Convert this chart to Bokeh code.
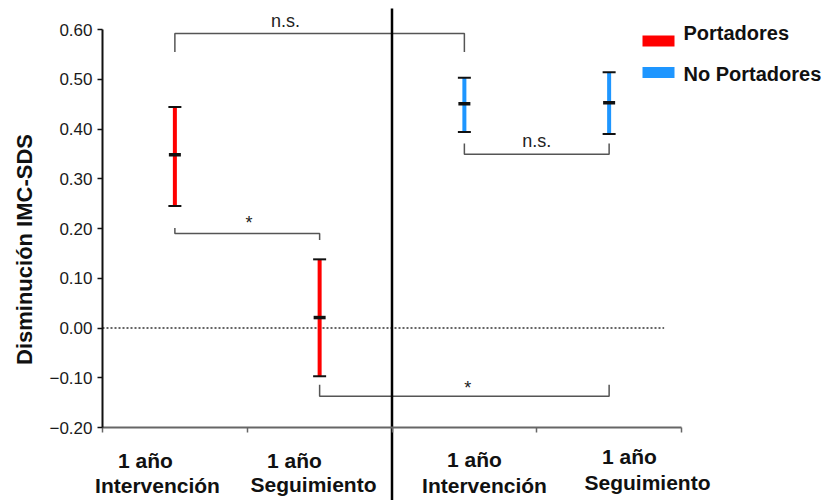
from math import pi
from bokeh.plotting import figure
from bokeh.models import (ColumnDataSource, FixedTicker, CustomJSTickFormatter,
                          Label, LabelSet, Range1d)
from bokeh.core.properties import value
from bokeh.embed import file_html
from bokeh.resources import INLINE

# ---------------- data ----------------
groups = ["Portadores", "Portadores", "No Portadores", "No Portadores"]
time_line1 = ["1 año", "1 año", "1 año", "1 año"]
time_line2 = ["Intervención", "Seguimiento", "Intervención", "Seguimiento"]
x_pos = [0.5, 1.5, 2.5, 3.5]
means = [0.348, 0.021, 0.451, 0.453]
upper = [0.444, 0.138, 0.503, 0.514]
lower = [0.245, -0.097, 0.394, 0.390]
y_ticks = [-0.2, -0.1, 0.0, 0.1, 0.2, 0.3, 0.4, 0.5, 0.6]
x_ticks = [0, 1, 2, 3, 4]
separator_x = 2

# significance brackets
bracket_x0 = [0.5, 0.5, 2.5, 1.5]
bracket_x1 = [2.5, 1.5, 3.5, 3.5]
bracket_bar = [0.592, 0.190, 0.349, -0.137]
bracket_leg0 = [0.555, 0.201, 0.371, -0.114]
bracket_leg1 = [0.555, 0.177, 0.371, -0.114]
bracket_text = ["n.s.", "*", "n.s.", "*"]
bracket_text_x = [1.264, 1.012, 3.0, 2.523]
bracket_text_y = [0.617, 0.212, 0.376, -0.120]

zero_line_x = [0.0, 3.88]
zero_line_y = [0.0, 0.0]

RED = "#ff0000"
BLUE = "#1e96ff"
colors = [RED, RED, BLUE, BLUE]
legend_labels = ["Portadores", "No Portadores"]
legend_colors = [RED, BLUE]

# ---------------- geometry helpers (reference pixel -> data) ----------------
W, H = 832, 500
X_PX = 144.75     # px per x unit
Y_PX = 497.5      # px per y unit
X_ZERO = 102      # canvas px of x=0
Y_ZERO = 327.5    # canvas px of y=0


def sx(px):
    return (px - X_ZERO) / X_PX


def sy(py):
    return (Y_ZERO - py) / Y_PX


p = figure(width=W, height=H, x_range=Range1d(sx(0), sx(W)), y_range=Range1d(sy(H), sy(0)),
           output_backend="svg", toolbar_location=None,
           min_border_left=0, min_border_right=0, min_border_top=0, min_border_bottom=0)
p.grid.visible = False
p.outline_line_color = None
p.background_fill_color = "white"

FONT = "Liberation Sans"

# y axis
yax = p.yaxis[0]
yax.fixed_location = 0
yax.bounds = (-0.2, 0.6)
yax.ticker = FixedTicker(ticks=y_ticks)
yax.formatter = CustomJSTickFormatter(
    code="return (tick < -1e-9 ? '\u2212' : '') + Math.abs(tick).toFixed(2);")
yax.major_label_text_font = FONT
yax.major_label_text_font_size = "17px"
yax.major_label_text_color = "#1a1a1a"
yax.major_label_standoff = 5
yax.major_tick_out = 5
yax.major_tick_in = 0
yax.minor_tick_out = 0
yax.minor_tick_in = 0
yax.axis_line_width = 2
yax.axis_line_color = "#111111"
yax.major_tick_line_width = 1.5
yax.major_tick_line_color = "#111111"

# x axis
xax = p.xaxis[0]
xax.fixed_location = -0.2
xax.bounds = (0, 4)
xax.ticker = FixedTicker(ticks=x_ticks)
xax.formatter = CustomJSTickFormatter(code="return '';")
xax.major_tick_out = 5
xax.major_tick_in = 0
xax.minor_tick_out = 0
xax.minor_tick_in = 0
xax.axis_line_width = 2
xax.axis_line_color = "#666666"
xax.major_tick_line_color = "#666666"
xax.major_tick_line_width = 1.5

# zero reference line
p.line(x=zero_line_x, y=zero_line_y, line_dash="2 2", line_color="#333333", line_width=1.3)

# brackets
bxs = [[a, a, b, b] for a, b in zip(bracket_x0, bracket_x1)]
bys = [[l0, m, m, l1] for l0, m, l1 in zip(bracket_leg0, bracket_bar, bracket_leg1)]
p.multi_line(xs=bxs, ys=bys, line_color="#555555", line_width=1.5)

bt_src = ColumnDataSource(dict(x=bracket_text_x, y=bracket_text_y, text=bracket_text,
                               fs=["18px" if t != "*" else "18px" for t in bracket_text]))
p.text(x="x", y="y", text="text", source=bt_src, text_font=value(FONT), text_font_size="fs",
       text_align="center", text_baseline="alphabetic", text_color="#222222")

# separator line between groups
p.segment(x0=[separator_x], y0=[sy(8)], x1=[separator_x], y1=[sy(H)],
          line_width=2.5, line_color="black")

# error bars
src = ColumnDataSource(dict(x=x_pos, mean=means, upper=upper, lower=lower, color=colors, group=groups))
p.segment(x0="x", y0="lower", x1="x", y1="upper", line_color="color", line_width=4, source=src)
p.scatter(x="x", y="upper", marker="dash", size=13, line_width=2, line_color="#111111", source=src)
p.scatter(x="x", y="lower", marker="dash", size=13, line_width=2, line_color="#111111", source=src)
p.scatter(x="x", y="mean", marker="dash", size=12, line_width=3.5, line_color="#111111", source=src)

# category labels (two lines)
cat_src1 = ColumnDataSource(dict(x=[sx(145), sx(294), sx(474), sx(629)],
                                 y=[sy(467), sy(467), sy(466), sy(463)], text=time_line1))
cat_src2 = ColumnDataSource(dict(x=[sx(157), sx(313), sx(484), sx(647)],
                                 y=[sy(492), sy(491), sy(492), sy(489)], text=time_line2))
for s in (cat_src1, cat_src2):
    p.add_layout(LabelSet(x="x", y="y", text="text", source=s, text_align="center",
                          text_baseline="alphabetic", text_font=value(FONT),
                          text_font_style="bold", text_font_size="21px", text_color="#111111"))

# y-axis title
p.add_layout(Label(x=sx(24), y=sy(249), text="Disminución IMC-SDS", angle=pi / 2,
                   text_align="center", text_baseline="alphabetic", text_font=FONT,
                   text_font_style="bold", text_font_size="22px", text_color="#111111"))

# legend
p.rect(x=[sx(658)] * 2, y=[sy(40.5), sy(72)], width=32, height=11,
       width_units="screen", height_units="screen", fill_color=legend_colors, line_color=None)
for lab, yy in zip(legend_labels, [sy(32), sy(73)]):
    p.add_layout(Label(x=sx(683), y=yy, text=lab, text_align="left", text_baseline="alphabetic",
                       text_font=FONT, text_font_style="bold", text_font_size="20px",
                       text_color="#111111"))

open("out.html", "w").write(file_html(p, INLINE))
